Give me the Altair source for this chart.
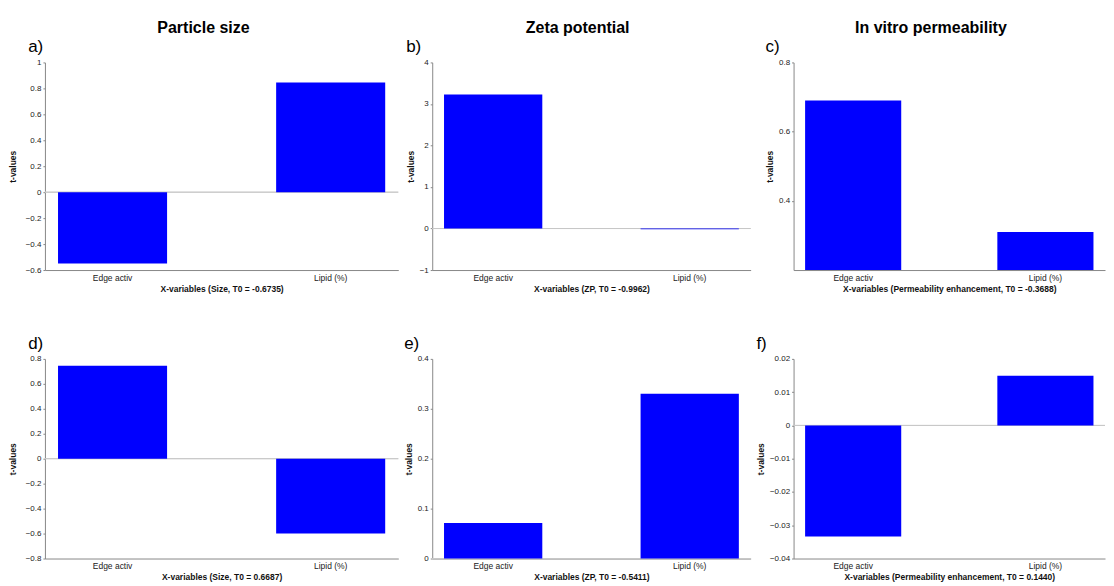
import altair as alt
import pandas as pd

categories = ["Edge activ", "Lipid (%)"]

size_a = [-0.55, 0.845]
zp_b = [3.23, -0.02]
perm_c = [0.69, 0.31]
size_d = [0.745, -0.60]
zp_e = [0.071, 0.33]
perm_f = [-0.0334, 0.0149]

ticks_a = [-0.6, -0.4, -0.2, 0, 0.2, 0.4, 0.6, 0.8, 1]
ticks_b = [-1, 0, 1, 2, 3, 4]
ticks_c = [0.4, 0.6, 0.8]
ticks_d = [-0.8, -0.6, -0.4, -0.2, 0, 0.2, 0.4, 0.6, 0.8]
ticks_e = [0, 0.1, 0.2, 0.3, 0.4]
ticks_f = [-0.04, -0.03, -0.02, -0.01, 0, 0.01, 0.02]

xtitles = [
    "X-variables (Size, T0 = -0.6735)",
    "X-variables (ZP, T0 = -0.9962)",
    "X-variables (Permeability enhancement, T0 = -0.3688)",
    "X-variables (Size, T0 = 0.6687)",
    "X-variables (ZP, T0 = -0.5411)",
    "X-variables (Permeability enhancement, T0 = 0.1440)",
]
headers = ["Particle size", "Zeta potential", "In vitro permeability"]
letters = ["a)", "b)", "c)", "d)", "e)", "f)"]

FONT = "Liberation Sans"
BLUE = "#0000FF"


def panel(letter, values, domain, ticks, xtitle, width, height, base=None,
          zero_line=True, ytitle_pad=4, letter_dx=0):
    df = pd.DataFrame({"var": categories, "t": values})
    yaxis = alt.Axis(title="t-values", values=ticks, tickCount=len(ticks) + 2,
                     format="~g", tickSize=2, labelPadding=2,
                     titlePadding=ytitle_pad, labelOverlap=False)
    yscale = alt.Scale(domain=domain, nice=False, zero=False)
    enc = dict(
        x=alt.X(
            "var:N",
            sort=categories,
            scale=alt.Scale(paddingInner=0.5, paddingOuter=0.06),
            axis=alt.Axis(title=xtitle, labelAngle=0, ticks=False, labelPadding=3,
                          titlePadding=3, labelOverlap=False, labelFontSize=8.5),
        ),
        y=alt.Y("t:Q", scale=yscale, axis=yaxis),
    )
    if base is not None:
        enc["y2"] = alt.datum(base)
    bars = alt.Chart(df).mark_bar(color=BLUE).encode(**enc)
    layers = []
    if zero_line:
        layers.append(alt.Chart(df).mark_rule(color="#c8c8c8", strokeWidth=1).encode(
            y=alt.Y(datum=0, scale=yscale, axis=yaxis)))
    layers.append(bars)
    return alt.layer(*layers).properties(
        width=width,
        height=height,
        title=alt.TitleParams(letter, anchor="start", fontSize=17, font=FONT,
                              fontWeight="normal", offset=2, dx=letter_dx),
    )


W1, W2, W3 = 354, 319, 312
H1, H2 = 208, 200

pa = panel(letters[0], size_a, [-0.6, 1], ticks_a, xtitles[0], W1, H1, ytitle_pad=8, letter_dx=20)
pb = panel(letters[1], zp_b, [-1, 4], ticks_b, xtitles[1], W2, H1)
pc = panel(letters[2], perm_c, [0.2, 0.8], ticks_c, xtitles[2], W3, H1, base=0.2, zero_line=False)
pd_ = panel(letters[3], size_d, [-0.8, 0.8], ticks_d, xtitles[3], W1, H2, ytitle_pad=8, letter_dx=20)
pe = panel(letters[4], zp_e, [0, 0.4], ticks_e, xtitles[4], W2, H2)
pf = panel(letters[5], perm_f, [-0.04, 0.02], ticks_f, xtitles[5], W3, H2)


def column(top, bottom, header):
    return alt.vconcat(
        top, bottom, spacing=42,
        title=alt.TitleParams(header, anchor="middle", fontSize=16, font=FONT,
                              fontWeight="bold", offset=2),
    )


chart = alt.hconcat(
    column(pa, pd_, headers[0]),
    column(pb, pe, headers[1]),
    column(pc, pf, headers[2]),
    spacing=4,
).configure(
    background="white",
    padding={"top": 12, "left": 0, "right": 0, "bottom": 0},
).configure_view(stroke=None).configure_axis(
    domainColor="#888888",
    tickColor="#888888",
    labelColor="#222222",
    titleColor="#111111",
    labelFont=FONT,
    titleFont=FONT,
    labelFontSize=8,
    titleFontSize=8.5,
    titleFontWeight="bold",
    labelOverlap=False,
    grid=False,
)

chart.save("out.html", embed_options={"renderer": "svg", "actions": False})
